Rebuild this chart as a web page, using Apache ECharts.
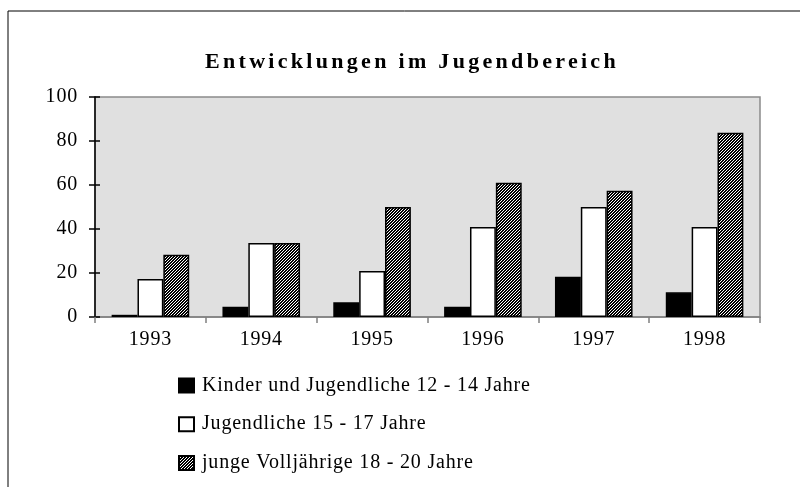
<!DOCTYPE html>
<html>
<head>
<meta charset="utf-8">
<script src="https://cdn.jsdelivr.net/npm/echarts@6/dist/echarts.min.js"></script>
<style>
  html, body { margin: 0; padding: 0; background: #fff; }
  #chart { width: 800px; height: 487px; }
</style>
</head>
<body>
<div id="chart"></div>
<script>
// 年份
const years = ['1993', '1994', '1995', '1996', '1997', '1998']
// 三组数据
const kinder = [1, 4.7, 6.7, 4.7, 18.3, 11.2]
const jugendliche = [17.3, 33.6, 20.9, 40.9, 50, 40.9]
const volljaehrige = [28.3, 33.6, 50, 61, 57.4, 83.8]
const seriesNames = [
  'Kinder und Jugendliche 12 - 14 Jahre',
  'Jugendliche 15 - 17 Jahre',
  'junge Volljährige 18 - 20 Jahre'
]

const serif = '"Liberation Serif", "Times New Roman", serif'

// 字间距: echarts 不支持 letterSpacing, 这里在 canvas 设置字体时顺便加上
const fontDesc = Object.getOwnPropertyDescriptor(CanvasRenderingContext2D.prototype, 'font')
Object.defineProperty(CanvasRenderingContext2D.prototype, 'font', {
  configurable: true,
  get () { return fontDesc.get.call(this) },
  set (v) {
    fontDesc.set.call(this, v)
    if ('letterSpacing' in this) {
      this.letterSpacing = /bold/.test(v) ? '3.3px' : '0.8px'
    }
  }
})

// 斜线填充图案 (3x3 像素)
function makeHatch () {
  const c = document.createElement('canvas')
  c.width = 3
  c.height = 3
  const ctx = c.getContext('2d')
  ctx.fillStyle = '#fff'
  ctx.fillRect(0, 0, 3, 3)
  ctx.fillStyle = '#000'
  for (let x = 0; x < 3; x++) {
    for (let y = 0; y < 3; y++) {
      if ((x + y) % 3 !== 2) ctx.fillRect(x, y, 1, 1)
    }
  }
  return c
}
const hatch = { image: makeHatch(), repeat: 'repeat' }

const chart = echarts.init(document.getElementById('chart'))

const barBase = {
  type: 'bar',
  barGap: 0,
  barCategoryGap: '30%'
}

chart.setOption({
  animation: false,
  title: {
    text: 'Entwicklungen im Jugendbereich',
    left: 200,
    top: 45,
    textStyle: {
      fontFamily: serif,
      fontWeight: 'bold',
      fontSize: 22,
      color: '#000'
    }
  },
  graphic: [
    {
      type: 'rect',
      shape: { x: 8, y: 11, width: 820, height: 500 },
      style: { fill: 'none', stroke: '#000', lineWidth: 1 },
      silent: true
    }
  ],
  grid: {
    left: 95,
    right: 40,
    top: 97,
    bottom: 170,
    show: true,
    backgroundColor: '#e0e0e0',
    borderColor: '#8a8a8a',
    borderWidth: 1.5
  },
  legend: {
    orient: 'vertical',
    left: 173,
    top: 370,
    itemWidth: 15,
    itemHeight: 14,
    itemGap: 18,
    icon: 'rect',
    data: seriesNames,
    textStyle: { fontFamily: serif, fontSize: 20, color: '#000', padding: [0, 0, 0, 3] }
  },
  xAxis: {
    type: 'category',
    data: years,
    axisLine: { lineStyle: { color: '#808080', width: 1.5 } },
    axisTick: { show: true, length: 6, lineStyle: { color: '#808080', width: 1.5 } },
    axisLabel: { fontFamily: serif, fontSize: 20, color: '#000', margin: 12 }
  },
  yAxis: [
    {
      type: 'value',
      min: 0,
      max: 100,
      interval: 20,
      splitLine: { show: false },
      axisLine: { show: true, lineStyle: { color: '#000', width: 1.5 } },
      axisTick: { show: true, length: 6, lineStyle: { color: '#000', width: 1.5 } },
      axisLabel: { fontFamily: serif, fontSize: 20, color: '#000', margin: 17 }
    },
    {
      // 内侧刻度, 模拟穿过轴线的刻度
      type: 'value',
      position: 'left',
      min: 0,
      max: 100,
      interval: 20,
      splitLine: { show: false },
      axisLine: { show: false },
      axisTick: { show: true, inside: true, length: 5, lineStyle: { color: '#000', width: 1.5 } },
      axisLabel: { show: false }
    }
  ],
  series: [
    {
      ...barBase,
      name: seriesNames[0],
      data: kinder,
      itemStyle: { color: '#000', borderColor: '#000', borderWidth: 1.5 }
    },
    {
      ...barBase,
      name: seriesNames[1],
      data: jugendliche,
      itemStyle: { color: '#fff', borderColor: '#000', borderWidth: 1.5 }
    },
    {
      ...barBase,
      name: seriesNames[2],
      data: volljaehrige,
      itemStyle: { color: hatch, borderColor: '#000', borderWidth: 1.5 }
    }
  ]
})
</script>
</body>
</html>
